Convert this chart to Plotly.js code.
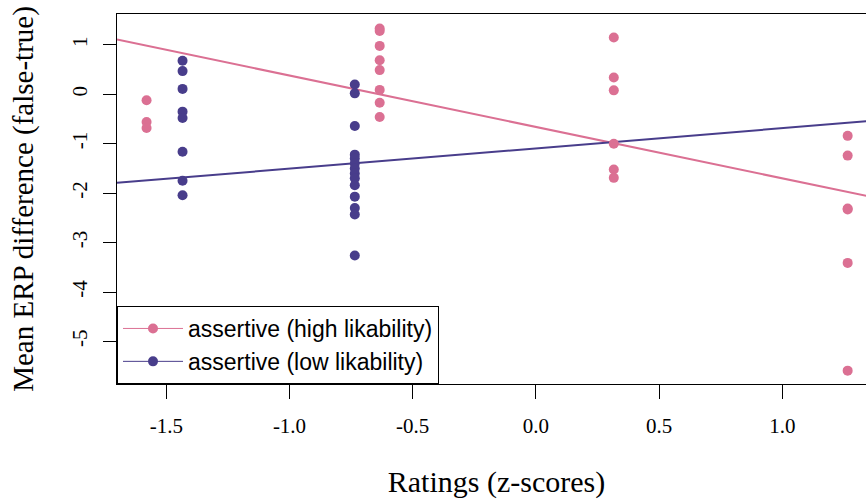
<!DOCTYPE html>
<html>
<head>
<meta charset="utf-8">
<script src="https://cdn.plot.ly/plotly-3.0.1.min.js"></script>
<style>
html, body { margin: 0; padding: 0; overflow: hidden; background: #fff; width: 866px; height: 499px; }
#chart { width: 880px; height: 499px; }
</style>
</head>
<body>
<div id="chart"></div>
<script>
// Data
const seriesNames = ["assertive (high likability)", "assertive (low likability)"];
const highX = [-1.58, -1.58, -1.58,
  -0.634, -0.634, -0.634, -0.634, -0.634, -0.634, -0.634, -0.634,
  0.316, 0.316, 0.316, 0.316, 0.316, 0.316,
  1.265, 1.265, 1.265, 1.265, 1.265, 1.265];
const highY = [-0.12, -0.56, -0.68,
  1.33, 1.28, 0.98, 0.69, 0.49, 0.09, -0.17, -0.46,
  1.15, 0.34, 0.08, -1.00, -1.52, -1.69,
  -0.84, -1.24, -2.31, -2.33, -3.41, -5.59];
const lowX = [-1.434, -1.434, -1.434, -1.434, -1.434, -1.434, -1.434, -1.434,
  -0.735, -0.735, -0.735, -0.735, -0.735, -0.735, -0.735, -0.735, -0.735, -0.735, -0.735, -0.735, -0.735, -0.735];
const lowY = [0.68, 0.47, 0.11, -0.35, -0.48, -1.16, -1.75, -2.04,
  0.20, 0.02, -0.64, -1.22, -1.30, -1.40, -1.50, -1.60, -1.70, -1.84, -2.07, -2.30, -2.43, -3.26];
// regression lines: [intercept, slope]
const highFit = [-0.66, -1.04];
const lowFit = [-1.094, 0.41];
const xTickVals = [-1.5, -1.0, -0.5, 0.0, 0.5, 1.0];
const xTickText = ["-1.5", "-1.0", "-0.5", "0.0", "0.5", "1.0"];
const yTickVals = [1, 0, -1, -2, -3, -4, -5];
const yTickText = ["1", "0", "-1", "-2", "-3", "-4", "-5"];

const colHigh = "#DB7093";
const colLow = "#483D8B";
const xRange = [-1.70, 1.38];
const yRange = [-5.86, 1.625];

function fitLine(coef) {
  return { x: xRange.slice(), y: xRange.map(v => coef[0] + coef[1] * v) };
}
const fh = fitLine(highFit), fl = fitLine(lowFit);

const traces = [
  { x: fh.x, y: fh.y, mode: "lines", line: { color: colHigh, width: 2 }, showlegend: false, hoverinfo: "skip" },
  { x: fl.x, y: fl.y, mode: "lines", line: { color: colLow, width: 2 }, showlegend: false, hoverinfo: "skip" },
  { x: highX, y: highY, mode: "markers", marker: { color: colHigh, size: 10 }, showlegend: false },
  { x: lowX, y: lowY, mode: "markers", marker: { color: colLow, size: 10 }, showlegend: false },
  { x: [null], y: [null], name: seriesNames[0], mode: "lines+markers", line: { color: colHigh, width: 1 }, marker: { color: colHigh, size: 10 } },
  { x: [null], y: [null], name: seriesNames[1], mode: "lines+markers", line: { color: colLow, width: 1 }, marker: { color: colLow, size: 10 } }
];

const serif = "Liberation Serif";
const layout = {
  width: 880, height: 499,
  margin: { l: 117, r: 4, t: 14, b: 115 },
  font: { family: serif, size: 21, color: "#000" },
  paper_bgcolor: "#fff", plot_bgcolor: "#fff",
  showlegend: true,
  legend: {
    x: 0, y: 0, xanchor: "left", yanchor: "bottom",
    bordercolor: "#000", borderwidth: 1, bgcolor: "#fff",
    font: { family: "Liberation Sans", size: 23, color: "#000" },
    itemwidth: 60, tracegroupgap: 0
  },
  xaxis: {
    range: xRange, showgrid: false, zeroline: false,
    showline: true, linecolor: "#000", linewidth: 1, mirror: true,
    ticks: "outside", ticklen: 14, tickcolor: "#000", tickwidth: 1,
    tickmode: "array", tickvals: xTickVals, ticktext: xTickText, ticklabelstandoff: 9,
    tickfont: { family: serif, size: 21, color: "#000" },
    title: { text: "Ratings (z-scores)", font: { family: serif, size: 30, color: "#000" }, standoff: 34 },
    automargin: false
  },
  yaxis: {
    range: yRange, showgrid: false, zeroline: false,
    showline: true, linecolor: "#000", linewidth: 1, mirror: true,
    ticks: "outside", ticklen: 13, tickcolor: "#000", tickwidth: 1,
    tickmode: "array", tickvals: yTickVals, ticktext: yTickText, tickangle: -90, ticklabelstandoff: 8,
    tickfont: { family: serif, size: 21, color: "#000" },
    title: { text: "Mean ERP difference (false-true)", font: { family: serif, size: 29, color: "#000" }, standoff: 25 },
    automargin: false
  }
};

Plotly.newPlot("chart", traces, layout, { displayModeBar: false, staticPlot: true });
</script>
</body>
</html>
